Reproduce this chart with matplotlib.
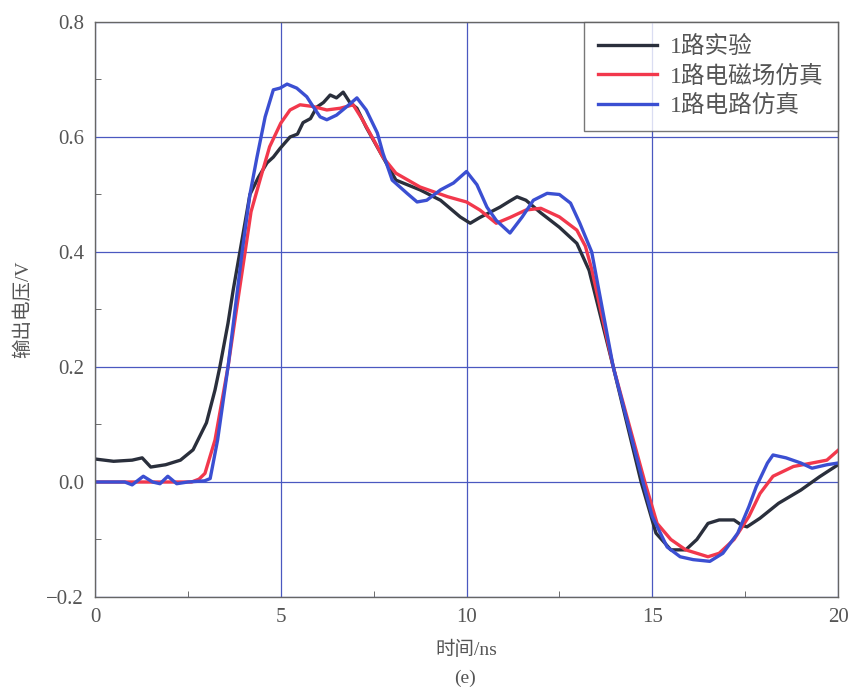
import matplotlib
matplotlib.use("Agg")
import matplotlib.pyplot as plt
from matplotlib.ticker import MultipleLocator, FuncFormatter

plt.rcParams['font.family'] = ['Liberation Serif', 'Noto Sans CJK SC']
plt.rcParams['axes.unicode_minus'] = True

# 1路实验 (measured)
exp_t = [0.0, 0.5, 1.0, 1.27, 1.5, 1.9, 2.3, 2.64, 3.0, 3.23, 3.36, 3.58, 3.72, 3.9, 4.17,
         4.4, 4.63, 4.8, 4.98, 5.25, 5.45, 5.6, 5.8, 5.97, 6.15, 6.33, 6.5, 6.68, 6.86, 7.05,
         7.3, 7.75, 8.1, 8.75, 9.3, 9.83, 10.1, 10.36, 10.9, 11.15, 11.36, 11.6, 12.0, 12.5,
         12.97, 13.3, 13.95, 14.7, 15.1, 15.5, 15.9, 16.2, 16.5, 16.8, 17.2, 17.4, 17.55,
         17.9, 18.4, 19.0, 19.5, 20.0]
exp_v = [0.040, 0.036, 0.038, 0.042, 0.026, 0.030, 0.038, 0.056, 0.103, 0.160, 0.200, 0.276,
         0.334, 0.400, 0.500, 0.530, 0.555, 0.565, 0.580, 0.600, 0.605, 0.625, 0.632, 0.652,
         0.660, 0.673, 0.668, 0.678, 0.660, 0.650, 0.617, 0.565, 0.525, 0.508, 0.490, 0.461,
         0.450, 0.460, 0.478, 0.488, 0.496, 0.490, 0.468, 0.443, 0.415, 0.368, 0.200, 0.000,
         -0.089, -0.118, -0.118, -0.100, -0.072, -0.066, -0.066, -0.075, -0.078, -0.063,
         -0.037, -0.014, 0.009, 0.030]

# 1路电磁场仿真 (EM simulation)
em_t = [0.0, 2.6, 2.8, 2.96, 3.23, 3.58, 3.82, 4.04, 4.2, 4.44, 4.7, 5.0, 5.25, 5.52, 5.87,
        6.24, 6.6, 6.95, 7.2, 7.5, 7.75, 8.1, 8.75, 9.5, 9.83, 10.0, 10.36, 10.8, 11.17,
        11.6, 12.0, 12.5, 12.97, 13.2, 13.37, 13.95, 14.8, 15.13, 15.5, 15.9, 16.5, 16.8,
        17.2, 17.6, 17.9, 18.25, 18.8, 19.3, 19.7, 20.0]
em_v = [0.000, 0.000, 0.005, 0.015, 0.073, 0.200, 0.305, 0.400, 0.470, 0.525, 0.583, 0.624,
        0.647, 0.656, 0.653, 0.647, 0.650, 0.656, 0.630, 0.595, 0.565, 0.537, 0.513, 0.496,
        0.490, 0.487, 0.473, 0.450, 0.460, 0.473, 0.476, 0.461, 0.438, 0.410, 0.370, 0.200,
        0.000, -0.072, -0.100, -0.118, -0.130, -0.124, -0.100, -0.060, -0.020, 0.010,
        0.027, 0.033, 0.038, 0.055]

# 1路电路仿真 (circuit simulation)
cir_t = [0.0, 0.8, 1.0, 1.3, 1.55, 1.75, 1.96, 2.2, 2.5, 2.95, 3.1, 3.3, 3.58, 3.96, 4.17,
         4.36, 4.58, 4.8, 4.98, 5.17, 5.43, 5.7, 5.87, 6.06, 6.24, 6.5, 6.78, 7.05, 7.3,
         7.6, 7.75, 8.0, 8.4, 8.67, 8.93, 9.3, 9.65, 10.0, 10.28, 10.55, 10.8, 11.17, 11.5,
         11.8, 12.17, 12.5, 12.8, 13.05, 13.37, 13.95, 14.75, 15.0, 15.4, 15.75, 16.1,
         16.55, 16.9, 17.3, 17.6, 17.8, 18.1, 18.25, 18.6, 19.0, 19.3, 19.7, 20.0]
cir_v = [0.000, 0.000, -0.005, 0.010, 0.000, -0.003, 0.010, -0.003, 0.000, 0.002, 0.006,
         0.073, 0.200, 0.400, 0.500, 0.565, 0.635, 0.682, 0.685, 0.692, 0.685, 0.670, 0.653,
         0.635, 0.630, 0.638, 0.653, 0.668, 0.647, 0.607, 0.572, 0.525, 0.502, 0.487, 0.490,
         0.508, 0.520, 0.540, 0.517, 0.478, 0.455, 0.433, 0.461, 0.490, 0.502, 0.500, 0.485,
         0.450, 0.400, 0.200, 0.000, -0.060, -0.113, -0.130, -0.135, -0.138, -0.124,
         -0.089, -0.043, -0.008, 0.033, 0.047, 0.042, 0.033, 0.024, 0.030, 0.033]

series_labels = ['1路实验', '1路电磁场仿真', '1路电路仿真']
series_colors = ['#2a2f3c', '#f2384c', '#3b4fd2']

fig = plt.figure(figsize=(8.52, 6.98), dpi=100)
ax = fig.add_axes([0.1115, 0.1447, 0.8721, 0.8238])

for t, v, lab, col in zip([exp_t, em_t, cir_t], [exp_v, em_v, cir_v],
                          series_labels, series_colors):
    ax.plot(t, v, color=col, lw=2.4, label=lab, solid_joinstyle='round')

ax.set_xlim(0, 20)
ax.set_ylim(-0.2, 0.8)
ax.xaxis.set_major_locator(MultipleLocator(5))
ax.xaxis.set_minor_locator(MultipleLocator(2.5))
ax.yaxis.set_major_locator(MultipleLocator(0.2))
ax.yaxis.set_minor_locator(MultipleLocator(0.1))
ax.yaxis.set_major_formatter(FuncFormatter(
    lambda v, p: ('\u2212' if v < -1e-9 else '') + f'{abs(v):.1f}'))
ax.grid(True, which='major', color='#4a58c0', lw=0.9)
ax.set_axisbelow(True)

txt_col = '#555555'
ax.tick_params(which='both', direction='in', labelsize=15, labelcolor=txt_col,
               color='#555555', pad=8)
ax.tick_params(which='major', length=0)
ax.tick_params(which='minor', length=4)
for s in ax.spines.values():
    s.set_color('#666666')
    s.set_linewidth(1.0)

ax.set_xlabel('时间/ns', fontsize=14, color=txt_col, labelpad=10)
ax.set_ylabel('输出电压/V', fontsize=14, color=txt_col, labelpad=10)
fig.text(0.546, 0.022, '(e)', fontsize=14, color=txt_col, ha='center')

leg = ax.legend(loc='upper right', fontsize=17, frameon=True, fancybox=False,
                borderaxespad=0, handlelength=2.5, labelspacing=0.3,
                borderpad=0.6, handletextpad=0.55)
leg.get_frame().set_edgecolor('#555555')
leg.get_frame().set_linewidth(1.0)
for t in leg.get_texts():
    t.set_color(txt_col)

fig.savefig('out.png', dpi=100)
